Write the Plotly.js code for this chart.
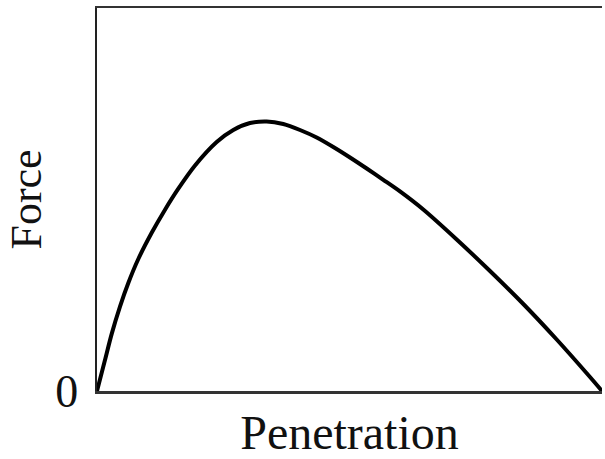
<!DOCTYPE html>
<html>
<head>
<meta charset="utf-8">
<script src="https://cdn.plot.ly/plotly-3.0.1.min.js"></script>
<style>html,body{margin:0;padding:0;background:#fff;}#chart{width:605px;height:459px;}</style>
</head>
<body>
<div id="chart"></div>
<script>
const penetration = [0, 1.58, 2.91, 4.55, 6.20, 8.18, 10.83, 13.47, 16.04, 19.41, 23.70, 26.99, 30.30, 33.60, 36.89, 40.20, 43.50, 46.79, 50.10, 53.41, 56.69, 60.00, 64.61, 71.23, 77.82, 84.42, 91.03, 97.62, 100];
const force = [0, 8.09, 14.91, 22.04, 28.20, 34.46, 41.31, 47.34, 52.69, 58.88, 65.01, 68.15, 69.97, 70.39, 69.71, 68.15, 66.19, 63.71, 60.97, 58.09, 55.14, 52.11, 47.39, 39.56, 31.33, 22.72, 13.45, 3.66, 0];
const yTickVals = [0];
const yTickText = ["0"];

const serif = "Liberation Serif, Times New Roman, serif";

const trace = {
  x: penetration,
  y: force,
  mode: "lines",
  line: {color: "#000", width: 4, shape: "spline", smoothing: 0.8},
  cliponaxis: false,
  hoverinfo: "none"
};

const layout = {
  width: 605,
  height: 459,
  margin: {l: 97, r: 3, t: 8, b: 68},
  paper_bgcolor: "#fff",
  plot_bgcolor: "#fff",
  showlegend: false,
  xaxis: {
    range: [0, 100],
    showgrid: false,
    zeroline: false,
    showline: true,
    mirror: true,
    linecolor: "#333",
    linewidth: 2.5,
    showticklabels: false,
    ticks: "",
    title: {text: "Penetration", font: {family: serif, size: 48, color: "#111"}, standoff: 38}
  },
  yaxis: {
    range: [0, 100],
    showgrid: false,
    zeroline: false,
    showline: true,
    linecolor: "#222",
    linewidth: 2.5,
    ticks: "",
    tickmode: "array",
    tickvals: yTickVals,
    ticktext: yTickText,
    ticklabelstandoff: 7,
    tickfont: {family: serif, size: 46, color: "#111"},
    title: {text: "Force", font: {family: serif, size: 44, color: "#111"}, standoff: 0}
  }
};

Plotly.newPlot("chart", [trace], layout, {staticPlot: true, displayModeBar: false});
</script>
</body>
</html>
